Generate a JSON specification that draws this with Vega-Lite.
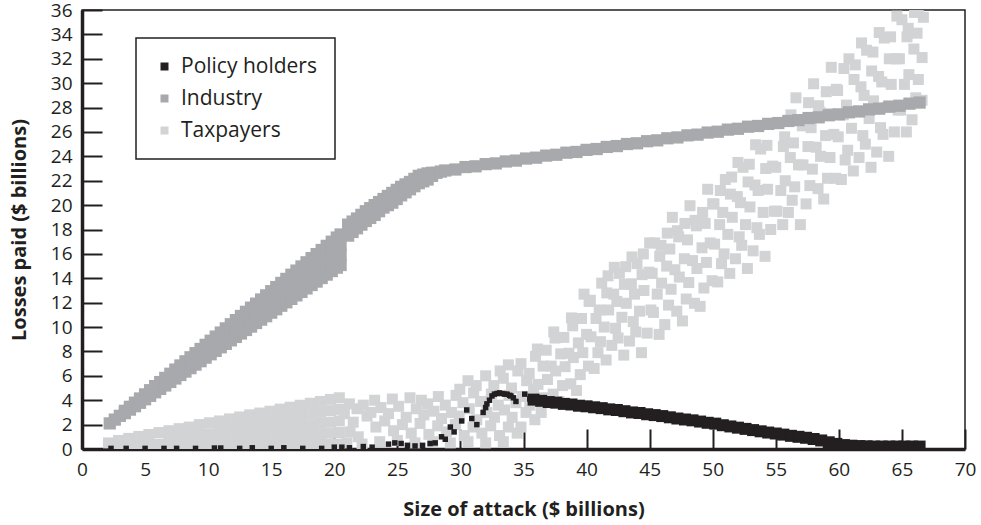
{
  "$schema": "https://vega.github.io/schema/vega-lite/v6.json",
  "width": 883,
  "height": 439,
  "autosize": {"type": "none"},
  "padding": {"left": 82, "top": 10, "right": 16, "bottom": 76},
  "background": "white",
  "config": {
    "view": {"stroke": "#231f20", "strokeWidth": 1.5},
    "font": "Open Sans",
    "axis": {
      "domainColor": "#231f20", "domainWidth": 3.5,
      "ticks": true, "tickColor": "#231f20", "tickWidth": 2, "tickSize": -20, "tickOpacity": 1,
      "labelColor": "#231f20", "labelFontSize": 19, "labelFont": "Open Sans",
      "labelFlush": false, "labelOverlap": false,
      "titleFont": "Open Sans", "titleFontSize": 20, "titleFontWeight": "bold", "titleColor": "#231f20",
      "grid": false, "zindex": 1
    },
    "legend": {"strokeWidth": 1.5}
  },
  "datasets": {
    "xticks": [{"x":5},{"x":10},{"x":15},{"x":20},{"x":25},{"x":30},{"x":35},{"x":40},{"x":45},{"x":50},{"x":55},{"x":60},{"x":65}],
    "yticks": [{"y":2},{"y":4},{"y":6},{"y":8},{"y":10},{"y":12},{"y":14},{"y":16},{"y":18},{"y":20},{"y":22},{"y":24},{"y":26},{"y":28},{"y":30},{"y":32},{"y":34}],
    "taxpayers": [
      {"x":2.1,"y":0.5},
      {"x":2.9,"y":0.4},{"x":2.9,"y":0.7},
      {"x":3.7,"y":0.4},{"x":3.7,"y":0.87},
      {"x":4.5,"y":0.4},{"x":4.5,"y":1.03},
      {"x":5.3,"y":0.4},{"x":5.3,"y":1.19},
      {"x":6.1,"y":0.4},{"x":6.1,"y":1.35},
      {"x":6.9,"y":0.4},{"x":6.9,"y":1.0},{"x":6.9,"y":1.5},
      {"x":7.7,"y":0.4},{"x":7.7,"y":1.05},{"x":7.7,"y":1.67},
      {"x":8.5,"y":0.4},{"x":8.5,"y":1.1},{"x":8.5,"y":1.8},
      {"x":9.3,"y":0.4},{"x":9.3,"y":1.2},{"x":9.3,"y":2.0},
      {"x":10.1,"y":0.4},{"x":10.1,"y":1.25},{"x":10.1,"y":2.15},
      {"x":10.9,"y":0.4},{"x":10.9,"y":1.05},{"x":10.9,"y":1.7},{"x":10.9,"y":2.3},
      {"x":11.7,"y":0.4},{"x":11.7,"y":1.1},{"x":11.7,"y":1.8},{"x":11.7,"y":2.47},
      {"x":12.5,"y":0.4},{"x":12.5,"y":1.15},{"x":12.5,"y":1.9},{"x":12.5,"y":2.63},
      {"x":13.3,"y":0.4},{"x":13.3,"y":1.2},{"x":13.3,"y":2.0},{"x":13.3,"y":2.8},
      {"x":14.1,"y":0.4},{"x":14.1,"y":1.25},{"x":14.1,"y":2.1},{"x":14.1,"y":2.95},
      {"x":14.9,"y":0.4},{"x":14.9,"y":1.1},{"x":14.9,"y":1.8},{"x":14.9,"y":2.45},{"x":14.9,"y":3.1},
      {"x":15.7,"y":0.4},{"x":15.7,"y":1.1},{"x":15.7,"y":1.8},{"x":15.7,"y":2.55},{"x":15.7,"y":3.27},
      {"x":16.5,"y":0.4},{"x":16.5,"y":1.15},{"x":16.5,"y":1.9},{"x":16.5,"y":2.65},{"x":16.5,"y":3.43},
      {"x":17.3,"y":0.4},{"x":17.3,"y":1.2},{"x":17.3,"y":2.0},{"x":17.3,"y":2.8},{"x":17.3,"y":3.59},
      {"x":18.1,"y":0.4},{"x":18.1,"y":1.2},{"x":18.1,"y":2.0},{"x":18.1,"y":2.9},{"x":18.1,"y":3.75},
      {"x":18.9,"y":0.4},{"x":18.9,"y":1.25},{"x":18.9,"y":2.1},{"x":18.9,"y":3.0},{"x":18.9,"y":3.9},
      {"x":19.7,"y":0.4},{"x":19.7,"y":1.3},{"x":19.7,"y":2.2},{"x":19.7,"y":3.15},{"x":19.7,"y":4.07},
      {"x":20.4,"y":0.4},{"x":20.4,"y":1.35},{"x":20.4,"y":2.3},{"x":20.4,"y":3.25},{"x":20.4,"y":4.2},
      {"x":21.0,"y":0.5},{"x":21.25,"y":1.4},{"x":20.8,"y":2.9},{"x":21.2,"y":3.7},
      {"x":21.9,"y":1.0},{"x":21.5,"y":2.2},{"x":21.8,"y":3.3},
      {"x":22.2,"y":0.4},{"x":22.6,"y":2.7},{"x":22.3,"y":3.6},
      {"x":23.3,"y":1.8},{"x":22.9,"y":3.0},{"x":23.2,"y":4.0},
      {"x":23.6,"y":0.6},{"x":24.0,"y":2.3},{"x":23.7,"y":3.4},
      {"x":24.7,"y":1.5},{"x":24.3,"y":2.9},{"x":24.6,"y":4.1},
      {"x":25.0,"y":0.7},{"x":25.4,"y":2.0},{"x":25.1,"y":3.5},
      {"x":26.1,"y":1.3},{"x":25.7,"y":2.6},{"x":26.0,"y":4.2},
      {"x":26.4,"y":0.5},{"x":26.8,"y":2.1},{"x":26.5,"y":3.3},{"x":26.9,"y":4.0},
      {"x":27.5,"y":1.2},{"x":27.1,"y":2.8},{"x":27.4,"y":3.7},
      {"x":27.8,"y":0.6},{"x":28.2,"y":1.9},{"x":27.9,"y":3.1},{"x":28.25,"y":4.3},
      {"x":28.9,"y":1.4},{"x":28.5,"y":2.5},{"x":28.8,"y":3.6},
      {"x":29.2,"y":0.5},{"x":29.6,"y":2.0},{"x":29.3,"y":3.0},{"x":29.65,"y":4.4},
      {"x":30.3,"y":1.1},{"x":29.9,"y":2.7},{"x":30.2,"y":3.8},{"x":29.95,"y":4.9},
      {"x":30.6,"y":0.6},{"x":31.0,"y":1.8},{"x":30.7,"y":3.3},{"x":31.05,"y":4.6},{"x":30.6,"y":5.6},
      {"x":31.7,"y":1.3},{"x":31.3,"y":2.4},{"x":31.6,"y":3.9},{"x":31.25,"y":5.2},
      {"x":32.0,"y":0.5},{"x":32.4,"y":1.9},{"x":32.1,"y":3.0},{"x":32.45,"y":4.5},{"x":32.0,"y":6.0},
      {"x":33.1,"y":1.1},{"x":32.7,"y":2.6},{"x":33.0,"y":3.6},{"x":32.65,"y":5.2},{"x":33.15,"y":6.4},
      {"x":33.4,"y":0.6},{"x":33.8,"y":1.8},{"x":33.5,"y":3.2},{"x":33.85,"y":4.4},{"x":33.4,"y":5.8},{"x":33.8,"y":6.9},
      {"x":34.5,"y":1.3},{"x":34.1,"y":2.6},{"x":34.4,"y":3.8},{"x":34.05,"y":5.0},{"x":34.55,"y":6.4},
      {"x":34.8,"y":1.8},{"x":35.2,"y":3.0},{"x":34.9,"y":4.3},{"x":35.25,"y":5.6},{"x":34.8,"y":7.0},
      {"x":35.9,"y":2.4},{"x":35.5,"y":3.6},{"x":35.8,"y":4.9},{"x":35.45,"y":6.2},{"x":35.95,"y":7.6},
      {"x":36.4,"y":3.0},{"x":36.7,"y":4.2},{"x":36.15,"y":5.3},{"x":36.55,"y":6.8},{"x":36.1,"y":8.2},
      {"x":37.35,"y":4.5},{"x":36.9,"y":5.7},{"x":37.2,"y":6.8},{"x":36.8,"y":8.1},{"x":37.4,"y":9.6},
      {"x":37.8,"y":3.9},{"x":38.1,"y":5.2},{"x":37.55,"y":6.4},{"x":37.95,"y":7.8},{"x":37.5,"y":9.1},
      {"x":38.75,"y":5.35},{"x":38.3,"y":6.75},{"x":38.6,"y":7.85},{"x":38.2,"y":9.15},{"x":38.8,"y":10.75},
      {"x":39.2,"y":4.8},{"x":39.5,"y":6.1},{"x":38.95,"y":7.5},{"x":39.35,"y":8.7},{"x":38.9,"y":10.1},
      {"x":40.15,"y":6.8},{"x":39.7,"y":7.9},{"x":40.0,"y":9.4},{"x":39.6,"y":10.7},{"x":40.2,"y":12.1},{"x":39.8,"y":12.7},
      {"x":40.6,"y":6.6},{"x":40.9,"y":7.9},{"x":40.35,"y":9.2},{"x":40.75,"y":10.7},{"x":40.3,"y":12.2},
      {"x":41.55,"y":7.3},{"x":41.1,"y":8.8},{"x":41.4,"y":10.0},{"x":41.0,"y":11.4},{"x":41.6,"y":12.8},{"x":41.2,"y":13.6},
      {"x":42.0,"y":8.5},{"x":42.3,"y":9.9},{"x":41.75,"y":11.4},{"x":42.15,"y":12.7},{"x":41.7,"y":14.2},{"x":42.2,"y":14.9},
      {"x":42.95,"y":7.7},{"x":42.5,"y":9.1},{"x":42.8,"y":10.8},{"x":42.4,"y":12.1},{"x":43.0,"y":13.5},{"x":42.6,"y":14.4},
      {"x":43.4,"y":8.85},{"x":43.7,"y":10.45},{"x":43.15,"y":11.95},{"x":43.55,"y":13.55},{"x":43.1,"y":14.95},{"x":43.6,"y":15.75},
      {"x":44.35,"y":7.9},{"x":43.9,"y":9.6},{"x":44.2,"y":11.3},{"x":43.8,"y":12.7},{"x":44.4,"y":14.3},{"x":44.0,"y":15.2},
      {"x":44.8,"y":9.5},{"x":45.1,"y":11.4},{"x":44.55,"y":13.0},{"x":44.95,"y":14.5},{"x":44.5,"y":16.0},{"x":45.0,"y":16.9},
      {"x":45.75,"y":9.4},{"x":45.3,"y":11.2},{"x":45.6,"y":12.7},{"x":45.2,"y":14.4},{"x":45.8,"y":15.8},{"x":45.4,"y":16.9},
      {"x":46.2,"y":10.2},{"x":46.5,"y":11.8},{"x":45.95,"y":13.6},{"x":46.35,"y":15.0},{"x":45.9,"y":16.7},{"x":46.4,"y":17.7},
      {"x":47.15,"y":11.3},{"x":46.7,"y":13.1},{"x":47.0,"y":14.7},{"x":46.6,"y":16.4},{"x":47.2,"y":17.9},{"x":46.8,"y":19.0},
      {"x":47.6,"y":10.5},{"x":47.9,"y":12.3},{"x":47.35,"y":14.1},{"x":47.75,"y":15.6},{"x":47.3,"y":17.4},{"x":47.8,"y":18.5},
      {"x":48.55,"y":11.95},{"x":48.1,"y":13.65},{"x":48.4,"y":15.45},{"x":48.0,"y":17.15},{"x":48.6,"y":18.75},{"x":48.2,"y":19.95},
      {"x":49.0,"y":11.7},{"x":49.3,"y":13.2},{"x":48.75,"y":14.8},{"x":49.15,"y":16.5},{"x":48.7,"y":18.3},{"x":49.2,"y":19.4},
      {"x":49.95,"y":13.8},{"x":49.5,"y":15.3},{"x":49.8,"y":16.9},{"x":49.4,"y":18.5},{"x":50.0,"y":20.1},{"x":49.6,"y":21.3},
      {"x":50.4,"y":13.7},{"x":50.7,"y":15.2},{"x":50.15,"y":16.8},{"x":50.55,"y":18.4},{"x":50.1,"y":20.1},{"x":50.6,"y":21.2},
      {"x":51.35,"y":14.4},{"x":50.9,"y":16.0},{"x":51.2,"y":17.6},{"x":50.8,"y":19.4},{"x":51.4,"y":20.9},{"x":51.0,"y":22.1},
      {"x":51.8,"y":15.6},{"x":52.1,"y":17.4},{"x":51.55,"y":19.0},{"x":51.95,"y":20.7},{"x":51.5,"y":22.3},{"x":52.0,"y":23.5},
      {"x":52.75,"y":14.8},{"x":52.3,"y":16.7},{"x":52.6,"y":18.4},{"x":52.2,"y":20.2},{"x":52.8,"y":21.9},{"x":52.4,"y":23.1},
      {"x":53.2,"y":16.25},{"x":53.5,"y":18.15},{"x":52.95,"y":19.85},{"x":53.35,"y":21.65},{"x":52.9,"y":23.35},{"x":53.4,"y":24.95},
      {"x":54.15,"y":15.8},{"x":53.7,"y":17.6},{"x":54.0,"y":19.4},{"x":53.6,"y":21.2},{"x":54.2,"y":23.0},{"x":53.8,"y":24.6},
      {"x":54.6,"y":18.0},{"x":54.9,"y":19.5},{"x":54.35,"y":21.3},{"x":54.75,"y":23.2},{"x":54.3,"y":24.9},{"x":54.8,"y":26.7},
      {"x":55.55,"y":18.4},{"x":55.1,"y":19.5},{"x":55.4,"y":21.2},{"x":55.0,"y":23.1},{"x":55.6,"y":24.8},{"x":55.2,"y":26.7},
      {"x":56.0,"y":19.4},{"x":56.3,"y":20.4},{"x":55.75,"y":22.0},{"x":56.15,"y":23.9},{"x":55.7,"y":25.6},{"x":56.2,"y":27.4},
      {"x":56.95,"y":18.4},{"x":56.5,"y":21.5},{"x":56.8,"y":23.3},{"x":56.4,"y":25.1},{"x":57.0,"y":27.0},{"x":56.6,"y":28.8},
      {"x":57.4,"y":20.1},{"x":57.7,"y":21.6},{"x":57.15,"y":23.3},{"x":57.55,"y":24.8},{"x":57.1,"y":26.5},{"x":57.6,"y":28.4},
      {"x":58.35,"y":21.35},{"x":57.9,"y":22.95},{"x":58.2,"y":24.75},{"x":57.8,"y":26.35},{"x":58.4,"y":28.15},{"x":58.0,"y":29.95},
      {"x":58.8,"y":20.5},{"x":59.1,"y":22.2},{"x":58.55,"y":24.0},{"x":58.95,"y":25.7},{"x":58.5,"y":27.6},{"x":59.0,"y":29.3},
      {"x":59.75,"y":22.2},{"x":59.3,"y":23.9},{"x":59.6,"y":25.8},{"x":59.2,"y":27.5},{"x":59.8,"y":29.5},{"x":59.4,"y":31.3},
      {"x":60.2,"y":22.1},{"x":60.5,"y":23.7},{"x":59.95,"y":25.6},{"x":60.35,"y":27.4},{"x":59.9,"y":29.4},{"x":60.4,"y":31.2},
      {"x":61.15,"y":22.8},{"x":60.7,"y":24.5},{"x":61.0,"y":26.3},{"x":60.6,"y":28.2},{"x":61.2,"y":30.3},{"x":60.8,"y":32.0},
      {"x":61.6,"y":23.9},{"x":61.9,"y":25.7},{"x":61.35,"y":27.7},{"x":61.75,"y":29.7},{"x":61.3,"y":31.5},{"x":61.8,"y":33.3},
      {"x":62.55,"y":23.1},{"x":62.1,"y":25.0},{"x":62.4,"y":27.1},{"x":62.0,"y":29.0},{"x":62.6,"y":31.0},{"x":62.2,"y":32.7},
      {"x":63.0,"y":24.35},{"x":63.3,"y":26.35},{"x":62.75,"y":28.55},{"x":63.15,"y":30.55},{"x":62.7,"y":32.55},{"x":63.2,"y":34.15},
      {"x":63.95,"y":24.0},{"x":63.5,"y":25.8},{"x":63.8,"y":28.0},{"x":63.4,"y":30.1},{"x":64.0,"y":32.0},{"x":63.6,"y":33.7},
      {"x":64.4,"y":26.0},{"x":64.7,"y":27.8},{"x":64.15,"y":29.9},{"x":64.55,"y":32.0},{"x":64.1,"y":33.8},{"x":64.6,"y":35.5},
      {"x":65.35,"y":26.0},{"x":64.9,"y":27.8},{"x":65.2,"y":29.9},{"x":64.8,"y":32.0},{"x":65.4,"y":33.8},{"x":65.0,"y":35.2},
      {"x":65.8,"y":27.0},{"x":66.1,"y":28.8},{"x":65.55,"y":30.7},{"x":65.95,"y":32.8},{"x":65.5,"y":34.5},{"x":66.0,"y":35.8},
      {"x":66.6,"y":28.6},{"x":66.3,"y":30.3},{"x":66.6,"y":32.1},{"x":66.2,"y":34.1},{"x":66.7,"y":35.4},{"x":66.3,"y":36.0}
    ],
    "industry": [
      {"x":2.2,"y":2.1},{"x":2.6,"y":2.41},{"x":3.0,"y":2.72},
      {"x":3.4,"y":2.94},{"x":3.4,"y":3.13},
      {"x":3.8,"y":3.23},{"x":3.8,"y":3.46},
      {"x":4.2,"y":3.51},{"x":4.2,"y":3.8},
      {"x":4.6,"y":3.79},{"x":4.6,"y":4.14},
      {"x":5.0,"y":4.08},{"x":5.0,"y":4.48},
      {"x":5.4,"y":4.36},{"x":5.4,"y":4.82},
      {"x":5.8,"y":4.65},{"x":5.8,"y":5.16},
      {"x":6.2,"y":4.93},{"x":6.2,"y":5.49},
      {"x":6.6,"y":5.21},{"x":6.6,"y":5.83},
      {"x":7.0,"y":5.5},{"x":7.0,"y":6.17},
      {"x":7.4,"y":5.78},{"x":7.4,"y":6.51},
      {"x":7.8,"y":6.07},{"x":7.8,"y":6.85},
      {"x":8.2,"y":6.35},{"x":8.2,"y":7.19},
      {"x":8.6,"y":6.63},{"x":8.6,"y":7.52},
      {"x":9.0,"y":6.92},{"x":9.0,"y":7.4},{"x":9.0,"y":7.86},
      {"x":9.4,"y":7.2},{"x":9.4,"y":7.7},{"x":9.4,"y":8.2},
      {"x":9.8,"y":7.49},{"x":9.8,"y":8.0},{"x":9.8,"y":8.54},
      {"x":10.2,"y":7.77},{"x":10.2,"y":8.3},{"x":10.2,"y":8.88},
      {"x":10.6,"y":8.05},{"x":10.6,"y":8.6},{"x":10.6,"y":9.22},
      {"x":11.0,"y":8.34},{"x":11.0,"y":8.95},{"x":11.0,"y":9.55},
      {"x":11.4,"y":8.62},{"x":11.4,"y":9.25},{"x":11.4,"y":9.89},
      {"x":11.8,"y":8.91},{"x":11.8,"y":9.57},{"x":11.8,"y":10.23},
      {"x":12.2,"y":9.19},{"x":12.2,"y":9.88},{"x":12.2,"y":10.57},
      {"x":12.6,"y":9.47},{"x":12.6,"y":10.19},{"x":12.6,"y":10.91},
      {"x":13.0,"y":9.76},{"x":13.0,"y":10.5},{"x":13.0,"y":11.25},
      {"x":13.4,"y":10.04},{"x":13.4,"y":10.82},{"x":13.4,"y":11.59},
      {"x":13.8,"y":10.33},{"x":13.8,"y":11.13},{"x":13.8,"y":11.92},
      {"x":14.2,"y":10.61},{"x":14.2,"y":11.44},{"x":14.2,"y":12.26},
      {"x":14.6,"y":10.89},{"x":14.6,"y":11.75},{"x":14.6,"y":12.6},
      {"x":15.0,"y":11.18},{"x":15.0,"y":12.06},{"x":15.0,"y":12.94},
      {"x":15.4,"y":11.46},{"x":15.4,"y":12.07},{"x":15.4,"y":12.67},{"x":15.4,"y":13.28},
      {"x":15.8,"y":11.75},{"x":15.8,"y":12.38},{"x":15.8,"y":13.0},{"x":15.8,"y":13.62},
      {"x":16.2,"y":12.03},{"x":16.2,"y":12.67},{"x":16.2,"y":13.31},{"x":16.2,"y":13.95},
      {"x":16.6,"y":12.31},{"x":16.6,"y":12.97},{"x":16.6,"y":13.63},{"x":16.6,"y":14.29},
      {"x":17.0,"y":12.6},{"x":17.0,"y":13.28},{"x":17.0,"y":13.95},{"x":17.0,"y":14.63},
      {"x":17.4,"y":12.88},{"x":17.4,"y":13.58},{"x":17.4,"y":14.27},{"x":17.4,"y":14.97},
      {"x":17.8,"y":13.17},{"x":17.8,"y":13.88},{"x":17.8,"y":14.6},{"x":17.8,"y":15.31},
      {"x":18.2,"y":13.45},{"x":18.2,"y":14.18},{"x":18.2,"y":14.92},{"x":18.2,"y":15.65},
      {"x":18.6,"y":13.73},{"x":18.6,"y":14.48},{"x":18.6,"y":15.23},{"x":18.6,"y":15.98},
      {"x":19.0,"y":14.02},{"x":19.0,"y":14.78},{"x":19.0,"y":15.55},{"x":19.0,"y":16.32},
      {"x":19.4,"y":14.3},{"x":19.4,"y":15.09},{"x":19.4,"y":15.87},{"x":19.4,"y":16.66},
      {"x":19.8,"y":14.59},{"x":19.8,"y":15.39},{"x":19.8,"y":16.2},{"x":19.8,"y":17.0},
      {"x":20.2,"y":14.87},{"x":20.2,"y":15.69},{"x":20.2,"y":16.52},{"x":20.2,"y":17.34},
      {"x":20.5,"y":15.09},{"x":20.5,"y":15.92},{"x":20.5,"y":16.76},{"x":20.5,"y":17.59},
      {"x":21.1,"y":17.5},{"x":21.1,"y":18.4},
      {"x":21.45,"y":17.8},{"x":21.45,"y":18.65},
      {"x":21.8,"y":18.1},{"x":21.8,"y":18.9},
      {"x":22.15,"y":18.4},{"x":22.15,"y":19.2},
      {"x":22.5,"y":18.7},{"x":22.5,"y":19.5},
      {"x":22.85,"y":18.95},{"x":22.85,"y":19.75},
      {"x":23.2,"y":19.2},{"x":23.2,"y":20.0},
      {"x":23.55,"y":19.5},{"x":23.55,"y":20.25},
      {"x":23.9,"y":19.8},{"x":23.9,"y":20.5},
      {"x":24.25,"y":20.0},{"x":24.25,"y":20.75},
      {"x":24.6,"y":20.2},{"x":24.6,"y":21.0},
      {"x":24.95,"y":20.5},{"x":24.95,"y":21.25},
      {"x":25.3,"y":20.8},{"x":25.3,"y":21.5},
      {"x":25.65,"y":21.05},{"x":25.65,"y":21.7},
      {"x":26.0,"y":21.3},{"x":26.0,"y":21.9},
      {"x":26.35,"y":21.55},{"x":26.35,"y":22.15},
      {"x":26.7,"y":21.8},{"x":26.7,"y":22.4},
      {"x":27.05,"y":21.95},{"x":27.05,"y":22.5},
      {"x":27.4,"y":22.1},{"x":27.4,"y":22.6},
      {"x":27.75,"y":22.4},{"x":27.75,"y":22.65},
      {"x":28.1,"y":22.65},{"x":28.45,"y":22.75},
      {"x":28.8,"y":22.84},{"x":29.6,"y":22.92},{"x":30.4,"y":23.12},{"x":31.2,"y":23.18},
      {"x":32.0,"y":23.36},{"x":32.8,"y":23.42},{"x":33.6,"y":23.58},{"x":34.4,"y":23.65},
      {"x":35.2,"y":23.82},{"x":36.0,"y":23.89},{"x":36.8,"y":24.06},{"x":37.6,"y":24.13},
      {"x":38.4,"y":24.3},{"x":39.2,"y":24.36},{"x":40.0,"y":24.53},{"x":40.8,"y":24.6},
      {"x":41.6,"y":24.77},{"x":42.4,"y":24.84},{"x":43.2,"y":25.01},{"x":44.0,"y":25.07},
      {"x":44.8,"y":25.24},{"x":45.6,"y":25.31},{"x":46.4,"y":25.48},{"x":47.2,"y":25.55},
      {"x":48.0,"y":25.72},{"x":48.8,"y":25.78},{"x":49.6,"y":25.95},{"x":50.4,"y":26.02},
      {"x":51.2,"y":26.19},{"x":52.0,"y":26.26},{"x":52.8,"y":26.43},{"x":53.6,"y":26.49},
      {"x":54.4,"y":26.66},{"x":55.2,"y":26.73},{"x":56.0,"y":26.9},{"x":56.8,"y":26.97},
      {"x":57.6,"y":27.14},{"x":58.4,"y":27.2},{"x":59.2,"y":27.37},{"x":60.0,"y":27.44},
      {"x":60.8,"y":27.61},{"x":61.6,"y":27.68},{"x":62.4,"y":27.85},{"x":63.2,"y":27.91},
      {"x":64.0,"y":28.08},{"x":64.8,"y":28.15},{"x":65.6,"y":28.32},{"x":66.4,"y":28.41}
    ],
    "policyband": [
      {"x":35.8,"y":4.05},{"x":36.4,"y":3.95},{"x":37.0,"y":3.85},{"x":37.6,"y":3.8},
      {"x":38.2,"y":3.7},{"x":38.8,"y":3.65},{"x":39.4,"y":3.55},{"x":40.0,"y":3.5},
      {"x":40.6,"y":3.42},{"x":41.2,"y":3.35},{"x":41.8,"y":3.25},{"x":42.4,"y":3.2},
      {"x":43.0,"y":3.1},{"x":43.6,"y":3.0},{"x":44.2,"y":2.95},{"x":44.8,"y":2.85},
      {"x":45.4,"y":2.78},{"x":46.0,"y":2.7},{"x":46.6,"y":2.6},{"x":47.2,"y":2.5},
      {"x":47.8,"y":2.42},{"x":48.4,"y":2.35},{"x":49.0,"y":2.25},{"x":49.6,"y":2.15},
      {"x":50.2,"y":2.08},{"x":50.8,"y":1.95},{"x":51.4,"y":1.85},{"x":52.0,"y":1.75},
      {"x":52.6,"y":1.65},{"x":53.2,"y":1.55},{"x":53.8,"y":1.45},{"x":54.4,"y":1.35},
      {"x":55.0,"y":1.27},{"x":55.6,"y":1.18},{"x":56.2,"y":1.08},{"x":56.8,"y":1.0},
      {"x":57.4,"y":0.92},{"x":58.0,"y":0.82},{"x":58.6,"y":0.7},{"x":59.2,"y":0.55},
      {"x":59.8,"y":0.42},{"x":60.4,"y":0.32},{"x":61.0,"y":0.27},{"x":61.6,"y":0.24},
      {"x":62.2,"y":0.22},{"x":62.8,"y":0.2},{"x":63.4,"y":0.2},{"x":64.0,"y":0.2},
      {"x":64.6,"y":0.2},{"x":65.2,"y":0.2},{"x":65.8,"y":0.2},{"x":66.4,"y":0.2}
    ],
    "policyscatter": [
      {"x":2.3,"y":0.05},{"x":3.5,"y":0.05},{"x":5.0,"y":0.05},{"x":6.5,"y":0.05},
      {"x":7.5,"y":0.05},{"x":9.0,"y":0.05},{"x":10.5,"y":0.08},{"x":11.0,"y":0.08},
      {"x":12.5,"y":0.05},{"x":13.5,"y":0.1},{"x":15.0,"y":0.05},{"x":16.0,"y":0.1},
      {"x":17.5,"y":0.05},{"x":19.0,"y":0.05},{"x":20.0,"y":0.15},{"x":20.6,"y":0.15},
      {"x":21.2,"y":0.1},{"x":22.3,"y":0.2},{"x":23.0,"y":0.15},{"x":24.3,"y":0.4},
      {"x":24.8,"y":0.5},{"x":25.3,"y":0.45},{"x":25.8,"y":0.3},{"x":26.4,"y":0.25},
      {"x":27.0,"y":0.3},{"x":27.6,"y":0.45},{"x":28.0,"y":0.5},{"x":28.5,"y":1.0},
      {"x":28.8,"y":0.8},{"x":29.2,"y":1.8},{"x":29.5,"y":1.4},{"x":30.1,"y":2.3},
      {"x":30.5,"y":3.2},{"x":30.9,"y":2.5},{"x":31.3,"y":2.0},{"x":31.8,"y":3.0},
      {"x":32.0,"y":3.4},{"x":32.1,"y":3.7},{"x":32.3,"y":4.0},{"x":32.5,"y":4.35},
      {"x":32.7,"y":4.5},{"x":32.9,"y":4.55},{"x":33.1,"y":4.6},{"x":33.3,"y":4.55},
      {"x":33.5,"y":4.5},{"x":33.7,"y":4.5},{"x":33.9,"y":4.4},{"x":34.0,"y":4.35},
      {"x":34.2,"y":4.2},{"x":34.4,"y":3.9},{"x":35.1,"y":4.5},{"x":35.5,"y":4.1}
    ]
  },
  "encoding": {
    "x": {
      "field": "x", "type": "quantitative",
      "scale": {"domain": [0, 70], "nice": false},
      "axis": {"values": [0,5,10,15,20,25,30,35,40,45,50,55,60,65,70], "title": "Size of attack ($ billions)", "ticks": true, "tickSize": -20, "labelPadding": 31, "titlePadding": 20}
    },
    "y": {
      "field": "y", "type": "quantitative",
      "scale": {"domain": [0, 36], "nice": false},
      "axis": {"values": [0,2,4,6,8,10,12,14,16,18,20,22,24,26,28,30,32,34,36], "title": "Losses paid ($ billions)", "ticks": true, "tickSize": -20, "labelPadding": 30, "titlePadding": 21}
    }
  },
  "layer": [
    {
      "data": {"name": "taxpayers"},
      "mark": {"type": "square", "size": 121, "opacity": 1, "clip": true},
      "encoding": {
        "color": {
          "datum": "Taxpayers", "type": "nominal",
          "scale": {"domain": ["Policy holders", "Industry", "Taxpayers"], "range": ["#231f20", "#a7a9ac", "#d1d3d4"]},
          "legend": {
            "title": null, "orient": "none", "legendX": 54, "legendY": 28,
            "symbolType": "square", "symbolSize": 64, "symbolStrokeWidth": 0, "symbolOpacity": 1,
            "labelFontSize": 21, "labelColor": "#231f20", "labelFont": "Open Sans",
            "padding": 18, "rowPadding": 10, "labelOffset": 6,
            "strokeColor": "#231f20", "fillColor": "white"
          }
        }
      }
    },
    {
      "data": {"name": "industry"},
      "mark": {"type": "square", "size": 150, "opacity": 1, "clip": true},
      "encoding": {"color": {"datum": "Industry", "type": "nominal"}}
    },
    {
      "data": {"name": "policyband"},
      "mark": {"type": "square", "size": 144, "opacity": 1, "clip": true},
      "encoding": {"color": {"datum": "Policy holders", "type": "nominal"}}
    },
    {
      "data": {"name": "policyscatter"},
      "mark": {"type": "square", "size": 30, "opacity": 1, "clip": true},
      "encoding": {"color": {"datum": "Policy holders", "type": "nominal"}}
    },
    {
      "data": {"name": "xticks"},
      "mark": {"type": "rule", "color": "#231f20", "strokeWidth": 2, "opacity": 1},
      "encoding": {
        "x": {"field": "x", "type": "quantitative"},
        "y": {"datum": 0, "type": "quantitative"},
        "y2": {"datum": 1.65}
      }
    },
    {
      "data": {"name": "yticks"},
      "mark": {"type": "rule", "color": "#231f20", "strokeWidth": 2, "opacity": 1},
      "encoding": {
        "y": {"field": "y", "type": "quantitative"},
        "x": {"datum": 0, "type": "quantitative"},
        "x2": {"datum": 1.6}
      }
    }
  ]
}
